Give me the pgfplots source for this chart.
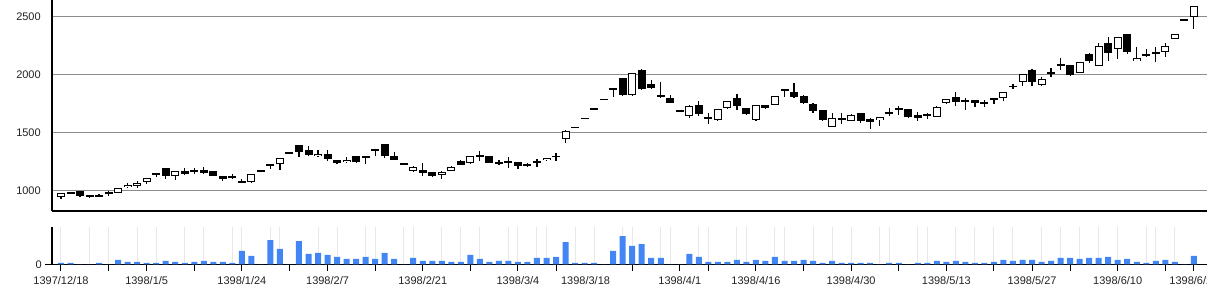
\documentclass[border=0pt]{standalone}
\usepackage{fontspec}
\setmainfont{Liberation Sans}
\usepackage{pgfplots}
\pgfplotsset{compat=1.18}
\usepackage{pgfplotstable}

\definecolor{volblue}{HTML}{4285F4}
\definecolor{hgrid}{HTML}{8C8C8C}
\definecolor{vgrid}{HTML}{E8E8E8}
\definecolor{lbl}{HTML}{222222}

\pgfplotstableread{
i o h l c v
0 938 978 925 975 4
1 985 988 972 975 4
2 995 997 945 948 0
3 950 960 935 948 0
4 957 972 945 948 4
5 975 993 950 978 0
6 980 1020 978 1017 13
7 1025 1063 1020 1043 7
8 1040 1083 1017 1063 7
9 1075 1108 1052 1105 4
10 1130 1150 1115 1147 4
11 1190 1193 1098 1127 10
12 1127 1170 1089 1164 7
13 1167 1190 1130 1138 4
14 1176 1190 1140 1155 7
15 1176 1200 1140 1147 10
16 1166 1170 1120 1128 7
17 1122 1125 1080 1095 7
18 1107 1140 1100 1124 4
19 1082 1100 1066 1070 40
20 1068 1140 1060 1138 25
21 1165 1167 1162 1167 0
22 1220 1226 1182 1224 73
23 1229 1280 1177 1278 46
24 1325 1328 1325 1328 0
25 1393 1395 1287 1327 70
26 1350 1387 1300 1307 31
27 1294 1345 1290 1313 34
28 1312 1345 1255 1267 28
29 1262 1265 1225 1240 22
30 1242 1290 1238 1260 16
31 1297 1300 1235 1245 16
32 1290 1296 1230 1293 22
33 1345 1350 1300 1350 16
34 1398 1400 1280 1300 34
35 1294 1329 1260 1265 16
36 1236 1236 1216 1216 0
37 1164 1210 1160 1199 19
38 1173 1234 1127 1150 10
39 1156 1160 1118 1121 10
40 1130 1165 1095 1162 10
41 1170 1208 1168 1205 7
42 1250 1262 1220 1222 7
43 1232 1300 1230 1298 28
44 1297 1343 1250 1300 16
45 1295 1298 1238 1240 7
46 1240 1262 1220 1235 10
47 1254 1291 1193 1236 10
48 1242 1245 1185 1213 7
49 1228 1235 1200 1207 7
50 1254 1268 1205 1236 19
51 1258 1280 1250 1277 19
52 1290 1326 1252 1295 22
53 1448 1520 1405 1516 67
54 1543 1545 1543 1545 4
55 1620 1623 1620 1623 4
56 1706 1709 1706 1709 4
57 1786 1788 1786 1788 0
58 1877 1880 1803 1880 40
59 1970 1975 1815 1825 85
60 1820 2018 1818 2015 55
61 2043 2045 1870 1878 61
62 1920 1956 1880 1885 19
63 1823 1933 1800 1803 19
64 1800 1820 1752 1755 0
65 1687 1688 1684 1685 0
66 1640 1735 1628 1732 31
67 1735 1770 1645 1660 22
68 1630 1666 1573 1626 7
69 1605 1702 1603 1700 7
70 1709 1772 1707 1770 7
71 1800 1831 1695 1730 13
72 1709 1712 1655 1657 7
73 1605 1737 1603 1735 13
74 1735 1738 1705 1709 10
75 1738 1816 1735 1814 22
76 1864 1868 1811 1868 10
77 1852 1927 1800 1805 10
78 1814 1825 1750 1753 13
79 1750 1752 1670 1689 10
80 1692 1695 1600 1605 4
81 1546 1671 1544 1622 10
82 1613 1671 1573 1618 4
83 1602 1656 1600 1654 4
84 1666 1668 1578 1600 4
85 1620 1622 1526 1590 4
86 1608 1633 1555 1631 0
87 1668 1709 1645 1674 4
88 1700 1730 1651 1706 4
89 1703 1705 1625 1637 0
90 1651 1674 1600 1622 4
91 1660 1671 1616 1640 4
92 1637 1726 1634 1724 10
93 1753 1790 1750 1788 7
94 1811 1849 1730 1762 10
95 1773 1797 1695 1779 7
96 1782 1785 1718 1753 4
97 1767 1785 1718 1750 4
98 1782 1802 1750 1797 7
99 1795 1852 1770 1850 13
100 1896 1916 1872 1900 10
101 1936 2008 1905 2006 13
102 2041 2052 1900 1936 13
103 1910 1980 1905 1962 7
104 2009 2058 1980 2026 10
105 2082 2142 2043 2087 19
106 2084 2087 1992 1994 19
107 2015 2112 2012 2110 16
108 2183 2189 2105 2116 19
109 2076 2275 2074 2250 19
110 2276 2328 2122 2189 22
111 2224 2330 2137 2328 13
112 2349 2351 2180 2195 16
113 2119 2238 2117 2142 7
114 2163 2224 2154 2180 4
115 2200 2238 2110 2180 10
116 2198 2276 2154 2250 13
117 2311 2356 2308 2354 7
118 2470 2472 2470 2472 0
119 2503 2592 2398 2590 25
}\data

\pgfplotsset{
  common/.style={
    scale only axis,
    width=866.25pt,
    xmin=-0.945, xmax=120.38,
    axis x line*=bottom, axis y line*=left,
    axis line style={black, line width=0.9pt},
    minor xtick={0,3,5,8,10,13,15,18,19,22,23,27,29,32,33,36,37,40,42,44,47,48,50,51,54,56,59,60,63,64,67,68,71,72,75,76,79,81,83,86,87,90,91,94,96,98,100,103,105,107,109,111,114,115,117},
    xminorgrids,
    minor grid style={vgrid, line width=0.75pt},
    minor tick length=0pt,
    tick label style={font=\fontsize{8.25pt}{9.9pt}\selectfont, text=lbl},
    /pgf/number format/assume math mode=true,
    /pgf/number format/1000 sep={},
  },
}

\begin{document}
\begin{tikzpicture}
\useasboundingbox (0,0) rectangle (905.25pt,225pt);

% ---------- price (candlestick) ----------
\begin{axis}[common,
  at={(39pt,66.75pt)}, anchor=south west,
  height=158.25pt,
  ymin=821, ymax=2646,
  xtick=\empty,
  ytick={1000,1500,2000,2500},
  ymajorgrids,
  major grid style={hgrid, line width=0.75pt},
  major tick length=0pt,
  yticklabel style={inner sep=0pt, xshift=-8.25pt},
]
% wicks
\addplot[draw=none, mark=none,
  error bars/.cd, y dir=both, y explicit, error mark=none,
  error bar style={draw=black, solid, line width=0.9pt}]
  table[x=i, y expr={(\thisrow{h}+\thisrow{l})/2},
        y error expr={(\thisrow{h}-\thisrow{l})/2}] {\data};
% bodies (black)
\addplot[draw=none, mark=none,
  error bars/.cd, y dir=both, y explicit, error mark=none,
  error bar style={draw=black, solid, line width=6pt}]
  table[x=i, y expr={(\thisrow{o}+\thisrow{c})/2},
        y error expr={max(abs(\thisrow{c}-\thisrow{o})/2,7)}] {\data};
% hollow interior of rising candles
\addplot[draw=none, mark=none,
  error bars/.cd, y dir=both, y explicit, error mark=none,
  error bar style={draw=white, solid, line width=4.5pt}]
  table[x=i, y expr={(\thisrow{o}+\thisrow{c})/2},
        y error expr={max((\thisrow{c}-\thisrow{o})/2-8.65,0)}] {\data};
\end{axis}

% ---------- volume ----------
\begin{axis}[common,
  at={(39pt,26.775pt)}, anchor=south west,
  height=28.2pt,
  ymin=0, ymax=113,
  ytick={0},
  xtick={0,5,9,14,19,24,28,33,38,43,48,52,60,65,68,73,78,83,88,93,98,102,106,111,116,119},
  xticklabels={1397/12/18,,1398/1/5,,1398/1/24,,1398/2/7,,1398/2/21,,1398/3/4,,,1398/4/1,,1398/4/16,,1398/4/30,,1398/5/13,,1398/5/27,,1398/6/10,,1398/6/20},
  extra x ticks={55.1},
  extra x tick labels={1398/3/18},
  extra x tick style={major tick style={draw=none}},
  tick align=outside,
  major tick length=5pt,
  major tick style={black, line width=0.75pt},
  xticklabel style={inner sep=0pt, anchor=north, yshift=-4pt},
  yticklabel style={inner sep=0pt, xshift=-2.5pt},
]
\addplot[ybar, bar width=4.5pt, bar shift=0pt, fill=volblue, draw=none]
  table[x=i, y=v] {\data};
\end{axis}
\end{tikzpicture}
\end{document}
